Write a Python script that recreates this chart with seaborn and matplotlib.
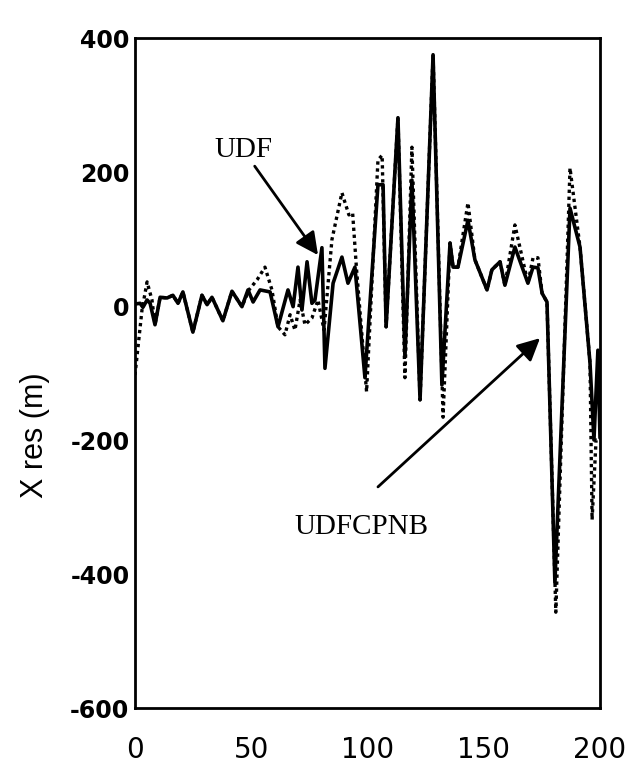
import matplotlib
matplotlib.use("Agg")
import matplotlib.pyplot as plt
import seaborn as sns
import pandas as pd

# ---- data ----
udf_x = [0, 2.2, 3.4, 5.2, 6.5, 8.6, 10.8, 13.8, 16.3, 18.5, 20.6, 24.9, 28.8, 31.0,
         33.1, 37.8, 41.7, 46.0, 48.6, 50.8, 53.8, 58.1, 61.5, 65.8, 68.0, 70.1, 71.8,
         74.0, 76.1, 77.4, 80.4, 81.7, 85.2, 89.0, 91.6, 94.6, 98.9, 104.5, 106.7, 108.0,
         113.1, 116.1, 119.1, 122.6, 128.2, 132.0, 135.5, 136.8, 138.9, 143.2, 146.2,
         151.4, 153.5, 157.0, 159.1, 163.4, 169.0, 171.2, 173.3, 175.1, 177.2, 180.6,
         187.1, 191.4, 195.7, 197.4, 199.1, 200]
udf_y = [3, 4, -2, 9, 4, -28, 13, 12, 16, 4, 21, -39, 16, 2,
         13, -22, 22, -1, 24, 6, 24, 21, -31, 24, -1, 58, -6,
         66, 4, 9, 87, -93, 34, 73, 34, 58, -107, 181, 181, -31,
         281, -76, 188, -140, 375, -118, 94, 58, 58, 128, 69,
         24, 54, 66, 31, 88, 34, 58, 57, 19, 6, -413,
         146, 88, -85, -200, -66, -197]

cpnb_x = [0, 3.0, 5.2, 7.3, 8.6, 10.8, 13.8, 16.3, 18.5, 20.6, 24.9, 28.8, 31.0,
          33.1, 37.8, 41.7, 46.0, 49.0, 52.5, 55.9, 58.9, 61.5, 64.5, 66.7, 68.8,
          71.0, 73.1, 76.1, 78.7, 81.3, 84.7, 89.0, 92.0, 93.6, 95.3, 99.6, 104.5,
          106.3, 108.0, 113.1, 116.1, 119.1, 122.6, 128.2, 132.5, 135.5, 136.8,
          138.9, 143.2, 146.2, 151.4, 153.5, 157.0, 159.1, 163.4, 169.0, 171.2,
          173.3, 175.1, 177.2, 181.0, 187.1, 191.4, 195.7, 196.6, 198.3, 200]
cpnb_y = [-103, -6, 36, 9, -28, 13, 12, 16, 4, 21, -39, 16, 2,
          13, -22, 22, -1, 24, 39, 58, 24, -31, -43, -13, -36,
          9, -28, -18, 9, -36, 99, 169, 136, 139, 54, -128, 218,
          225, -31, 281, -107, 237, -140, 375, -166, 94, 58,
          58, 154, 69, 24, 54, 66, 31, 121, 34, 72,
          72, 19, 6, -457, 206, 88, -85, -319, -200, -200]

x_ticks = [0, 50, 100, 150, 200]
y_ticks = [400, 200, 0, -200, -400, -600]
y_label = "X res (m)"
labels = ["UDF", "UDFCPNB"]

# ---- figure ----
sns.set_style("white")
plt.rcParams["font.family"] = ["DejaVu Sans"]
plt.rcParams["text.color"] = "black"

fig = plt.figure(figsize=(6.36, 7.68), dpi=100)
ax = fig.add_axes([135 / 636, 1 - 708 / 768, 465 / 636, 670 / 768])

df_udf = pd.DataFrame({"x": udf_x, "y": udf_y})
df_cpnb = pd.DataFrame({"x": cpnb_x, "y": cpnb_y})
sns.lineplot(data=df_cpnb, x="x", y="y", ax=ax, color="black", lw=2.4,
             linestyle=(0, (1, 1.1)), sort=False, estimator=None)
sns.lineplot(data=df_udf, x="x", y="y", ax=ax, color="black", lw=2.6,
             sort=False, estimator=None)

ax.set_xlim(0, 200)
ax.set_ylim(-600, 400)
ax.set_xticks(x_ticks)
ax.set_yticks(y_ticks)
ax.set_xticklabels([str(t) for t in x_ticks], fontsize=20, family="DejaVu Sans",
                   color="black")
ax.set_yticklabels([str(t) for t in y_ticks], fontsize=17, fontweight="bold",
                   family="DejaVu Sans", color="black")
ax.tick_params(axis="x", direction="in", length=4, pad=20, colors="black")
ax.tick_params(axis="y", direction="in", length=4, pad=4, colors="black")
ax.set_xlabel("")
ax.set_ylabel("")
for s in ax.spines.values():
    s.set_visible(True)
    s.set_color("black")
    s.set_linewidth(2)

fig.text(35 / 636, 1 - 435 / 768, y_label, rotation=90, ha="center", va="center",
         fontsize=22, family="Liberation Sans", color="black")

arrow = dict(arrowstyle="-|>", mutation_scale=34, lw=2, color="black",
             shrinkA=0, shrinkB=0)
ax.annotate(labels[0], xy=(78.7, 76), xytext=(46.5, 233), ha="center", va="center",
            fontsize=21, family="Liberation Serif", color="black", arrowprops=arrow)
ax.annotate("", xy=(174.2, -48), xytext=(104.5, -270), arrowprops=arrow)
ax.text(97.6, -330, labels[1], ha="center", va="center", fontsize=21,
        family="Liberation Serif", color="black")

fig.savefig("out.png", dpi=100, facecolor="white")
